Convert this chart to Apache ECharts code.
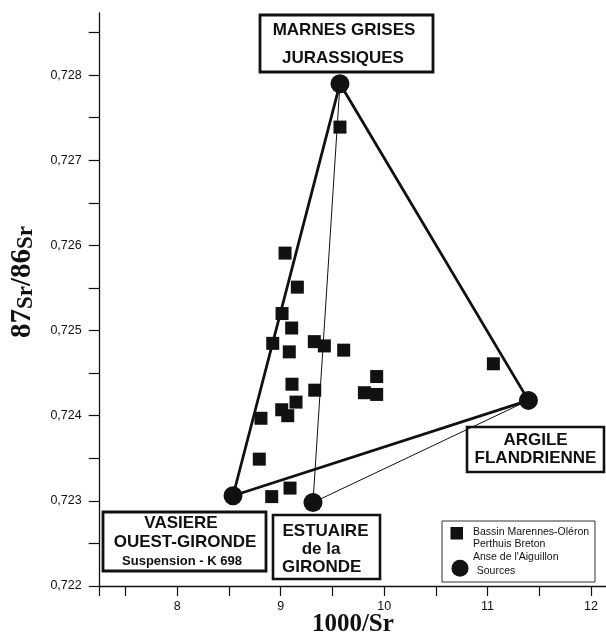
<!DOCTYPE html>
<html>
<head>
<meta charset="utf-8">
<script src="https://cdn.jsdelivr.net/npm/echarts@6/dist/echarts.min.js"></script>
<style>
  html, body { margin: 0; padding: 0; background: #fff; }
  #chart { width: 606px; height: 636px; }
</style>
</head>
<body>
<div id="chart"></div>
<script>
// Sediment samples: Bassin Marennes-Oléron, Perthuis Breton, Anse de l'Aiguillon
const sampleX = [9.573, 9.042, 9.161, 9.013, 9.106, 8.923, 9.325, 9.422, 9.609, 9.083,
                 9.928, 9.109, 9.329, 9.809, 9.928, 9.148, 9.010, 9.068, 8.809, 8.793,
                 8.913, 9.090, 11.056];
const sampleY = [0.72739, 0.72591, 0.72551, 0.72520, 0.72503, 0.72485, 0.72487, 0.72482, 0.72477, 0.72475,
                 0.72446, 0.72437, 0.72430, 0.72427, 0.72425, 0.72416, 0.72407, 0.72400, 0.72397, 0.72349,
                 0.72305, 0.72315, 0.72461];

// End-member sources
const sourceNames = ['MARNES GRISES JURASSIQUES', 'ARGILE FLANDRIENNE', 'VASIERE OUEST-GIRONDE', 'ESTUAIRE de la GIRONDE'];
const sourceX = [9.573, 11.395, 8.539, 9.312];
const sourceY = [0.72790, 0.72418, 0.72306, 0.72298];

// Mixing envelopes, as indices into the source arrays
const mainTriangle = [0, 1, 2, 0];
const estuaryLinks = [0, 3, 1];

// Axis ticks and labels
const xTicks = [7.25, 7.5, 8, 8.5, 9, 9.5, 10, 10.5, 11, 11.5, 12];
const xLabels = [8, 9, 10, 11, 12];
const yTicks = [0.722, 0.7225, 0.723, 0.7235, 0.724, 0.7245, 0.725, 0.7255, 0.726, 0.7265, 0.727, 0.7275, 0.728, 0.7285];
const yLabels = [0.722, 0.723, 0.724, 0.725, 0.726, 0.727, 0.728];

const INK = '#111';
const SANS = '"Liberation Sans", Arial, sans-serif';
const SERIF = '"Liberation Serif", "Times New Roman", serif';

const pts = (idx) => idx.map(i => [sourceX[i], sourceY[i]]);

function box(x, y, w, h, lines, lw) {
  const children = [{
    type: 'rect',
    shape: { x: x, y: y, width: w, height: h },
    style: { fill: '#fff', stroke: INK, lineWidth: lw }
  }];
  lines.forEach(l => children.push({
    type: 'text',
    style: { text: l.t, x: l.x, y: l.y, fill: INK, font: l.f, align: 'center', verticalAlign: 'middle' }
  }));
  return { type: 'group', z: 50, children: children };
}

const chart = echarts.init(document.getElementById('chart'));
chart.setOption({
  animation: false,
  backgroundColor: '#fff',
  grid: { left: 99.7, right: 0, top: 13, bottom: 50, outerBoundsMode: 'none' },
  xAxis: {
    type: 'value', min: 7.25, max: 12.145,
    splitLine: { show: false },
    axisLine: { show: true, lineStyle: { color: INK, width: 1.3 } },
    axisTick: { show: true, customValues: xTicks, length: 10, lineStyle: { color: INK, width: 1.2 } },
    axisLabel: { customValues: xLabels, margin: 14, color: INK, fontSize: 12.5, fontFamily: SANS },
    name: '1000/Sr', nameLocation: 'middle', nameGap: 26, nameMoveOverlap: false,
    nameTextStyle: { fontFamily: SERIF, fontWeight: 'bold', fontSize: 25, color: INK }
  },
  yAxis: {
    type: 'value', min: 0.722, max: 0.72873,
    splitLine: { show: false },
    axisLine: { show: true, lineStyle: { color: INK, width: 1.3 } },
    axisTick: { show: true, customValues: yTicks, length: 11, lineStyle: { color: INK, width: 1.2 } },
    axisLabel: {
      customValues: yLabels, margin: 18, color: INK, fontSize: 12.5, fontFamily: SANS,
      formatter: v => v.toFixed(3).replace('.', ',')
    }
  },
  series: [
    {
      type: 'line', data: pts(estuaryLinks), symbol: 'none', z: 2,
      lineStyle: { color: INK, width: 1 }
    },
    {
      type: 'line', data: pts(mainTriangle), symbol: 'none', z: 3,
      lineStyle: { color: INK, width: 2.8 }
    },
    {
      type: 'scatter', name: 'Bassin Marennes-Oléron',
      data: sampleX.map((x, i) => [x, sampleY[i]]),
      symbol: 'rect', symbolSize: 13, z: 4,
      itemStyle: { color: INK, opacity: 1 }
    },
    {
      type: 'scatter', name: 'Sources',
      data: sourceX.map((x, i) => ({ name: sourceNames[i], value: [x, sourceY[i]] })),
      symbol: 'circle', symbolSize: 19, z: 5,
      itemStyle: { color: INK, opacity: 1 }
    }
  ],
  graphic: [
    // y-axis title
    {
      type: 'text', x: 23, y: 282, rotation: Math.PI / 2, z: 60,
      style: {
        text: '{a|87}{b|Sr}{a|/86}{b|Sr}',
        align: 'center', verticalAlign: 'middle', fill: INK,
        rich: {
          a: { font: 'bold 29px ' + SERIF, fill: INK, verticalAlign: 'bottom' },
          b: { font: 'bold 23px ' + SERIF, fill: INK, verticalAlign: 'bottom' }
        }
      }
    },
    box(260, 15, 173, 57, [
      { t: 'MARNES GRISES', x: 344, y: 30, f: 'bold 17px ' + SANS },
      { t: 'JURASSIQUES', x: 343, y: 58, f: 'bold 17px ' + SANS }
    ], 2.8),
    box(467, 427, 137, 45, [
      { t: 'ARGILE', x: 535.5, y: 440, f: 'bold 17px ' + SANS },
      { t: 'FLANDRIENNE', x: 535.5, y: 458, f: 'bold 17px ' + SANS }
    ], 2.6),
    box(103, 512, 163, 59, [
      { t: 'VASIERE', x: 181, y: 523, f: 'bold 17px ' + SANS },
      { t: 'OUEST-GIRONDE', x: 185, y: 542, f: 'bold 17px ' + SANS },
      { t: 'Suspension - K 698', x: 182, y: 561, f: 'bold 13px ' + SANS }
    ], 2.8),
    box(273, 515, 107, 64, [
      { t: 'ESTUAIRE', x: 325.5, y: 531, f: 'bold 17px ' + SANS },
      { t: 'de la', x: 321, y: 549, f: 'bold 17px ' + SANS },
      { t: 'GIRONDE', x: 321.7, y: 567, f: 'bold 17px ' + SANS }
    ], 2.6),
    // legend
    {
      type: 'group', z: 50,
      children: [
        { type: 'rect', shape: { x: 442, y: 521, width: 153, height: 61 },
          style: { fill: '#fff', stroke: '#333', lineWidth: 1 } },
        { type: 'rect', shape: { x: 450.5, y: 527, width: 12.5, height: 12.5 }, style: { fill: INK } },
        { type: 'circle', shape: { cx: 460, cy: 568.3, r: 8.5 }, style: { fill: INK } },
        { type: 'text', style: { text: 'Bassin Marennes-Oléron', x: 473, y: 532, fill: INK, font: '10.5px ' + SANS, verticalAlign: 'middle' } },
        { type: 'text', style: { text: 'Perthuis Breton', x: 473, y: 544.3, fill: INK, font: '10.5px ' + SANS, verticalAlign: 'middle' } },
        { type: 'text', style: { text: "Anse de l'Aiguillon", x: 473, y: 556.7, fill: INK, font: '10.5px ' + SANS, verticalAlign: 'middle' } },
        { type: 'text', style: { text: 'Sources', x: 476.7, y: 570.7, fill: INK, font: '10.5px ' + SANS, verticalAlign: 'middle' } }
      ]
    }
  ]
});
</script>
</body>
</html>
